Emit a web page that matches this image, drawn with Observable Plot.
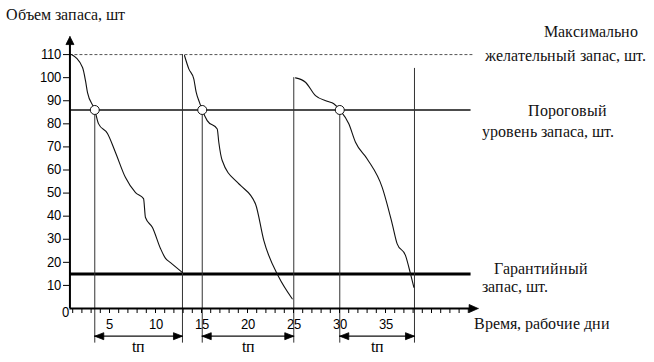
<!DOCTYPE html>
<html>
<head>
<meta charset="utf-8">
<script src="https://cdn.jsdelivr.net/npm/d3@7"></script>
<script src="https://cdn.jsdelivr.net/npm/@observablehq/plot@0.6"></script>
<style>
  @font-face { font-family: "RefSerif"; src: local("Liberation Serif"), local("LiberationSerif-Regular"), local("DejaVu Serif"); }
  @font-face { font-family: "RefSans"; src: local("Liberation Sans"), local("LiberationSans-Regular"); }
  html, body { margin: 0; padding: 0; background: #fff; }
</style>
</head>
<body>
<div id="chart"></div>
<script>
// ---- data ----
const cycle1 = [
  [0.87,110.0],[2.07,104.4],[2.39,98.7],[2.61,93.5],[3.4,86.0],[3.8,80.1],[4.78,75.8],
  [5.65,67.6],[6.74,56.7],[7.83,50.2],[8.70,47.6],[8.91,39.4],[9.67,35.1],[10.54,26.0],
  [11.09,21.7],[11.63,19.9],[12.93,15.6]
];
const cycle2 = [
  [13.15,109.6],[13.62,103.8],[14.16,99.5],[14.42,93.7],[14.78,89.3],[15.08,86.0],[15.62,81.4],
  [16.71,77.8],[16.88,72.0],[17.25,64.1],[18.88,54.7],[19.24,53.3],[20.87,45.3],[21.77,29.5],
  [23.4,13.6],[24.86,4.2]
];
const cycle3 = [
  [25.22,99.9],[26.3,98.0],[27.39,92.2],[28.66,89.8],[29.38,88.7],[30.03,86.0],[31.01,80.0],
  [31.74,72.0],[33.01,64.8],[34.64,52.5],[35.73,36.7],[36.27,28.0],[37.17,23.0],[37.72,15.0],
  [38.08,9.2]
];
const maxStock = 110;        // максимально желательный запас
const thresholdStock = 86;   // пороговый уровень
const safetyStock = 15;      // гарантийный запас
const orderDays = [3.4, 15.08, 30.03];      // пересечение порога
const deliveryDays = [12.93, 25.03, 38.15]; // поставки
const deliveryTops = [110, 100, 104];
const yTicks = [10, 20, 30, 40, 50, 60, 70, 80, 90, 100, 110];
const xTicks = [5, 10, 15, 20, 25, 30, 35];
const minorTicks = [1,2,3,4,5,6,7,8,9,10,11,12,13,14,15,16,17,18,19,20,21,22,23,24,25,26,27,28,29,30,31,32,33,34,35,36,37,38,39,40,41,42,43,44];
const leadLabel = "tп";

// ---- layout constants ----
const W = 654, H = 362, mL = 63, mR = 177, mT = 31, mB = 54;
const xDom = [0, 45], yDom = [0, 120];
const pxX = (W - mL - mR) / (xDom[1] - xDom[0]);
const pxY = (H - mT - mB) / (yDom[1] - yDom[0]);
const originX = 0.7;
const lineEnd = 44.3;
const dropBottom = -15;
const spanY = -12;
const yArrowTip = 117.8, xArrowTip = 45.07;
const SERIF = "RefSerif, Liberation Serif, serif";
const SANS = "RefSans, Liberation Sans, sans-serif";

// filled triangular arrowheads, built in data units from pixel sizes
function arrowHead(id, tx, ty, dir, len, half) {
  const lx = len / pxX, ly = len / pxY, hx = half / pxX, hy = half / pxY;
  let p;
  if (dir === "up") p = [[tx, ty], [tx - hx, ty - ly], [tx + hx, ty - ly], [tx, ty]];
  else if (dir === "right") p = [[tx, ty], [tx - lx, ty + hy], [tx - lx, ty - hy], [tx, ty]];
  else p = [[tx, ty], [tx + lx, ty + hy], [tx + lx, ty - hy], [tx, ty]];
  return p.map(([x, y]) => ({id, x, y}));
}

const toObj = (arr, c) => arr.map(([x, y]) => ({x, y, c}));
const curve = [...toObj(cycle1, 1), ...toObj(cycle2, 2), ...toObj(cycle3, 3)];
const intervals = orderDays.map((d, i) => ({x1: d, x2: deliveryDays[i], xm: (d + deliveryDays[i]) / 2}));
const deliveries = deliveryDays.map((d, i) => ({x: d, top: deliveryTops[i]}));
const heads = [
  ...arrowHead("ya", originX, yArrowTip, "up", 8, 4),
  ...arrowHead("xa", xArrowTip, 0, "right", 9, 4),
  ...intervals.flatMap((d, i) => [
    ...arrowHead("l" + i, d.x1, spanY, "left", 9, 3.5),
    ...arrowHead("r" + i, d.x2, spanY, "right", 9, 3.5)
  ])
];

const serifText = (txt, dx, dy, anchor) =>
  Plot.text([txt], {frameAnchor: "top-left", dx, dy, textAnchor: anchor, lineAnchor: "bottom", fontFamily: SERIF, fontSize: 16, fill: "#111"});

const chart = Plot.plot({
  width: W, height: H,
  marginLeft: mL, marginRight: mR, marginTop: mT, marginBottom: mB,
  x: {domain: xDom}, y: {domain: yDom},
  style: {fontSize: "13px", color: "black", background: "white"},
  marks: [
    Plot.ruleY([maxStock], {x1: originX, x2: 44.5, stroke: "#555", strokeWidth: 1, strokeDasharray: "3,2"}),
    Plot.ruleY([thresholdStock], {x1: originX, x2: lineEnd, stroke: "#111", strokeWidth: 1.6}),
    Plot.ruleY([safetyStock], {x1: originX, x2: lineEnd, stroke: "#000", strokeWidth: 3}),
    Plot.ruleX(orderDays, {x: d => d, y1: thresholdStock, y2: dropBottom, stroke: "#333", strokeWidth: 1}),
    Plot.ruleX(deliveries, {x: "x", y1: "top", y2: dropBottom, stroke: "#333", strokeWidth: 1}),
    Plot.line(curve, {x: "x", y: "y", z: "c", stroke: "#111", strokeWidth: 1.1, curve: "monotone-x"}),
    Plot.dot(orderDays, {x: d => d, y: thresholdStock, r: 4.5, fill: "white", stroke: "#111", strokeWidth: 1}),
    Plot.ruleX([originX], {y1: 0, y2: 115, stroke: "#000", strokeWidth: 2}),
    Plot.ruleY([0], {x1: originX, x2: 44.3, stroke: "#000", strokeWidth: 2}),
    Plot.axisY({ticks: yTicks, tickSize: 6, tickPadding: 3, dx: 6, fontSize: 13, fontFamily: SANS}),
    Plot.axisX({ticks: minorTicks, tickSize: 5, tickFormat: () => ""}),
    Plot.axisX({ticks: xTicks, tickSize: 0, tickPadding: 11, fontSize: 13, fontFamily: SANS}),
    Plot.text(["0"], {frameAnchor: "bottom-left", dx: -2, dy: 8, fontSize: 13, fontFamily: SANS}),
    Plot.ruleY(intervals, {y: spanY, x1: "x1", x2: "x2", stroke: "#111", strokeWidth: 1.2}),
    Plot.line(heads, {x: "x", y: "y", z: "id", fill: "#000", stroke: "#000", strokeWidth: 0.8}),
    Plot.text(intervals, {x: "xm", y: -19, text: () => leadLabel, fontSize: 16, fontFamily: SERIF, lineAnchor: "bottom"}),
    serifText("Объем запаса, шт", -58, -12, "start"),
    serifText("Максимально", 527, 5, "middle"),
    serifText("желательный запас, шт.", 502, 29, "middle"),
    serifText("Пороговый", 504, 84, "middle"),
    serifText("уровень запаса, шт.", 484, 105, "middle"),
    serifText("Гарантийный", 477, 242, "middle"),
    serifText("запас, шт.", 418, 260, "start"),
    serifText("Время, рабочие дни", 410, 297, "start")
  ]
});
document.getElementById("chart").appendChild(chart);
</script>
</body>
</html>
